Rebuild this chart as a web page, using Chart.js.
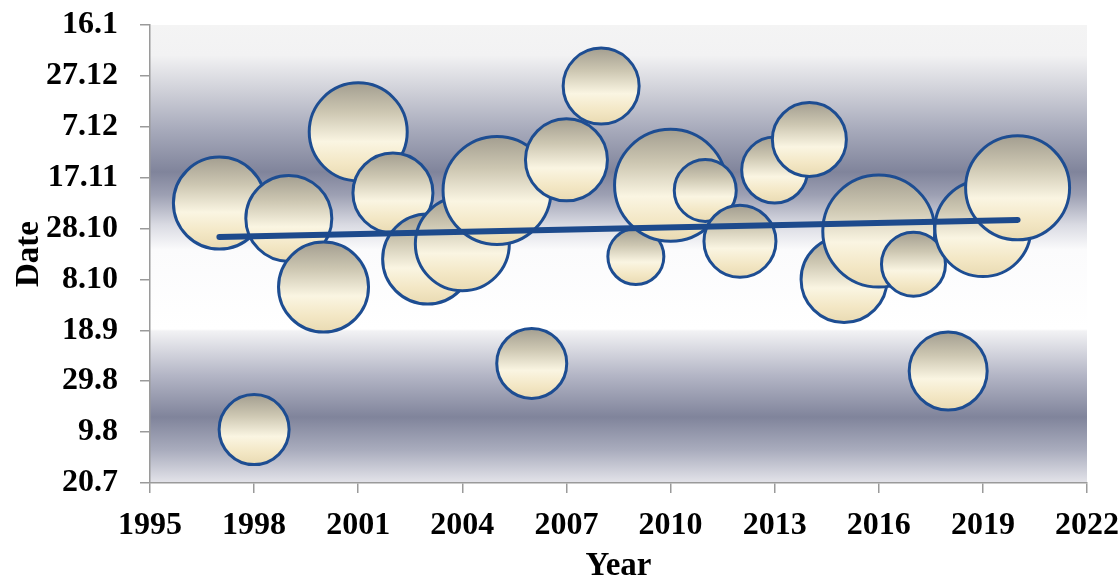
<!DOCTYPE html>
<html>
<head>
<meta charset="utf-8">
<script src="https://cdn.jsdelivr.net/npm/chart.js@4/dist/chart.umd.min.js"></script>
<style>
  html, body { margin: 0; padding: 0; background: #fff; }
  #wrap { width: 1120px; height: 582px; }
</style>
</head>
<body>
<div id="wrap"><canvas id="chart"></canvas></div>
<script>
// sowing date per year, as days after 20 July, with bubble radius
const years = [1997, 1998, 1999, 2000, 2001, 2002, 2003, 2004, 2005, 2006, 2007, 2008,
               2009, 2010, 2011, 2012, 2013, 2014, 2015, 2016, 2017, 2018, 2019, 2020];
const dayOffset = [110, 21, 104, 77, 138, 114, 88, 94, 115, 47, 127, 156,
                   89, 117, 115, 95, 123, 135, 80, 99, 86, 44, 100, 116];
const bubbleSize = [46, 35, 43, 45, 49, 40, 45, 47, 54, 35, 41, 38,
                    28, 56, 31, 36, 33, 37, 43, 56, 32, 39, 48, 52];

// linear trend end points
const trendYears = [1997, 2020];
const trendDays = [96.7, 103.4];

// y tick labels, one every 20 days starting at 20 July
const dateLabels = ['20.7', '9.8', '29.8', '18.9', '8.10', '28.10', '17.11', '7.12', '27.12', '16.1'];

const bubbles = years.map((yr, i) => ({ x: yr, y: dayOffset[i], r: bubbleSize[i] }));
const trend = trendYears.map((yr, i) => ({ x: yr, y: trendDays[i] }));

const serif = "'Liberation Serif', 'Times New Roman', serif";
const axisGrey = '#9a9a9a';

// banded grey-blue backdrop behind the plot
const plotBackdrop = {
  id: 'plotBackdrop',
  beforeDraw(chart) {
    const { ctx, chartArea: a } = chart;
    ctx.save();
    ctx.fillStyle = '#fff';
    ctx.fillRect(0, 0, chart.width, chart.height);
    const g = ctx.createLinearGradient(0, a.top, 0, a.bottom);
    g.addColorStop(0, '#f4f4f4');
    g.addColorStop(0.066, '#f2f2f3');
    g.addColorStop(0.142, '#d0d1d9');
    g.addColorStop(0.229, '#a7aabb');
    g.addColorStop(0.321, '#80849b');
    g.addColorStop(0.371, '#9da0b3');
    g.addColorStop(0.437, '#dadbe3');
    g.addColorStop(0.491, '#fbfbfc');
    g.addColorStop(0.664, '#ffffff');
    g.addColorStop(0.668, '#f2f2f4');
    g.addColorStop(0.764, '#b4b6c6');
    g.addColorStop(0.856, '#80849b');
    g.addColorStop(0.928, '#a9acbd');
    g.addColorStop(1, '#e4e4ea');
    ctx.fillStyle = g;
    ctx.fillRect(a.left, a.top, a.right - a.left, a.bottom - a.top);
    ctx.restore();
  }
};

function bubbleFill(c) {
  const { chart, raw } = c;
  if (!raw || !chart.chartArea) return '#f4ecd2';
  const y = chart.scales.y.getPixelForValue(raw.y);
  const g = chart.ctx.createLinearGradient(0, y - raw.r, 0, y + raw.r);
  g.addColorStop(0, '#a39e90');
  g.addColorStop(0.3, '#cdc7b2');
  g.addColorStop(0.6, '#faf5e2');
  g.addColorStop(0.82, '#f3e7c5');
  g.addColorStop(1, '#e9daB2');
  return g;
}

new Chart(document.getElementById('chart'), {
  type: 'bubble',
  data: {
    datasets: [
      {
        type: 'line',
        data: trend,
        borderColor: '#1d4a8c',
        borderWidth: 6,
        borderCapStyle: 'round',
        pointRadius: 0,
        fill: false,
        order: 0
      },
      {
        data: bubbles,
        backgroundColor: bubbleFill,
        borderColor: '#1d4d92',
        borderWidth: 3,
        order: 1
      }
    ]
  },
  options: {
    responsive: true,
    maintainAspectRatio: false,
    animation: false,
    layout: { autoPadding: false, padding: { top: 25, right: 33, left: 0, bottom: 0 } },
    plugins: { legend: { display: false }, tooltip: { enabled: false } },
    scales: {
      x: {
        type: 'linear',
        min: 1995,
        max: 2022,
        afterFit: s => {
          s.height = 99;
          s.paddingLeft = 0;
          s.paddingRight = 0;
        },
        ticks: {
          stepSize: 3,
          padding: 14,
          color: '#000',
          font: { family: serif, size: 32, weight: 'bold' },
          callback: v => String(v)
        },
        grid: { drawOnChartArea: false, tickLength: 10, color: axisGrey, lineWidth: 1.5 },
        border: { color: axisGrey, width: 1.5 },
        title: {
          display: true,
          text: 'Year',
          color: '#000',
          padding: { top: 0, bottom: -1 },
          font: { family: serif, size: 33, weight: 'bold', lineHeight: 1 }
        }
      },
      y: {
        type: 'linear',
        min: 0,
        max: 180,
        afterFit: s => {
          s.width = 150;
          s.paddingTop = 0;
          s.paddingBottom = 0;
        },
        ticks: {
          stepSize: 20,
          padding: 22,
          color: '#000',
          font: { family: serif, size: 32, weight: 'bold' },
          callback: v => dateLabels[Math.round(v / 20)]
        },
        grid: { drawOnChartArea: false, tickLength: 10, color: axisGrey, lineWidth: 1.5 },
        border: { color: axisGrey, width: 1.5 },
        title: {
          display: true,
          text: 'Date',
          color: '#000',
          padding: { top: 13, bottom: 0 },
          font: { family: serif, size: 33, weight: 'bold', lineHeight: 1 }
        }
      }
    }
  },
  plugins: [plotBackdrop]
});
</script>
</body>
</html>
